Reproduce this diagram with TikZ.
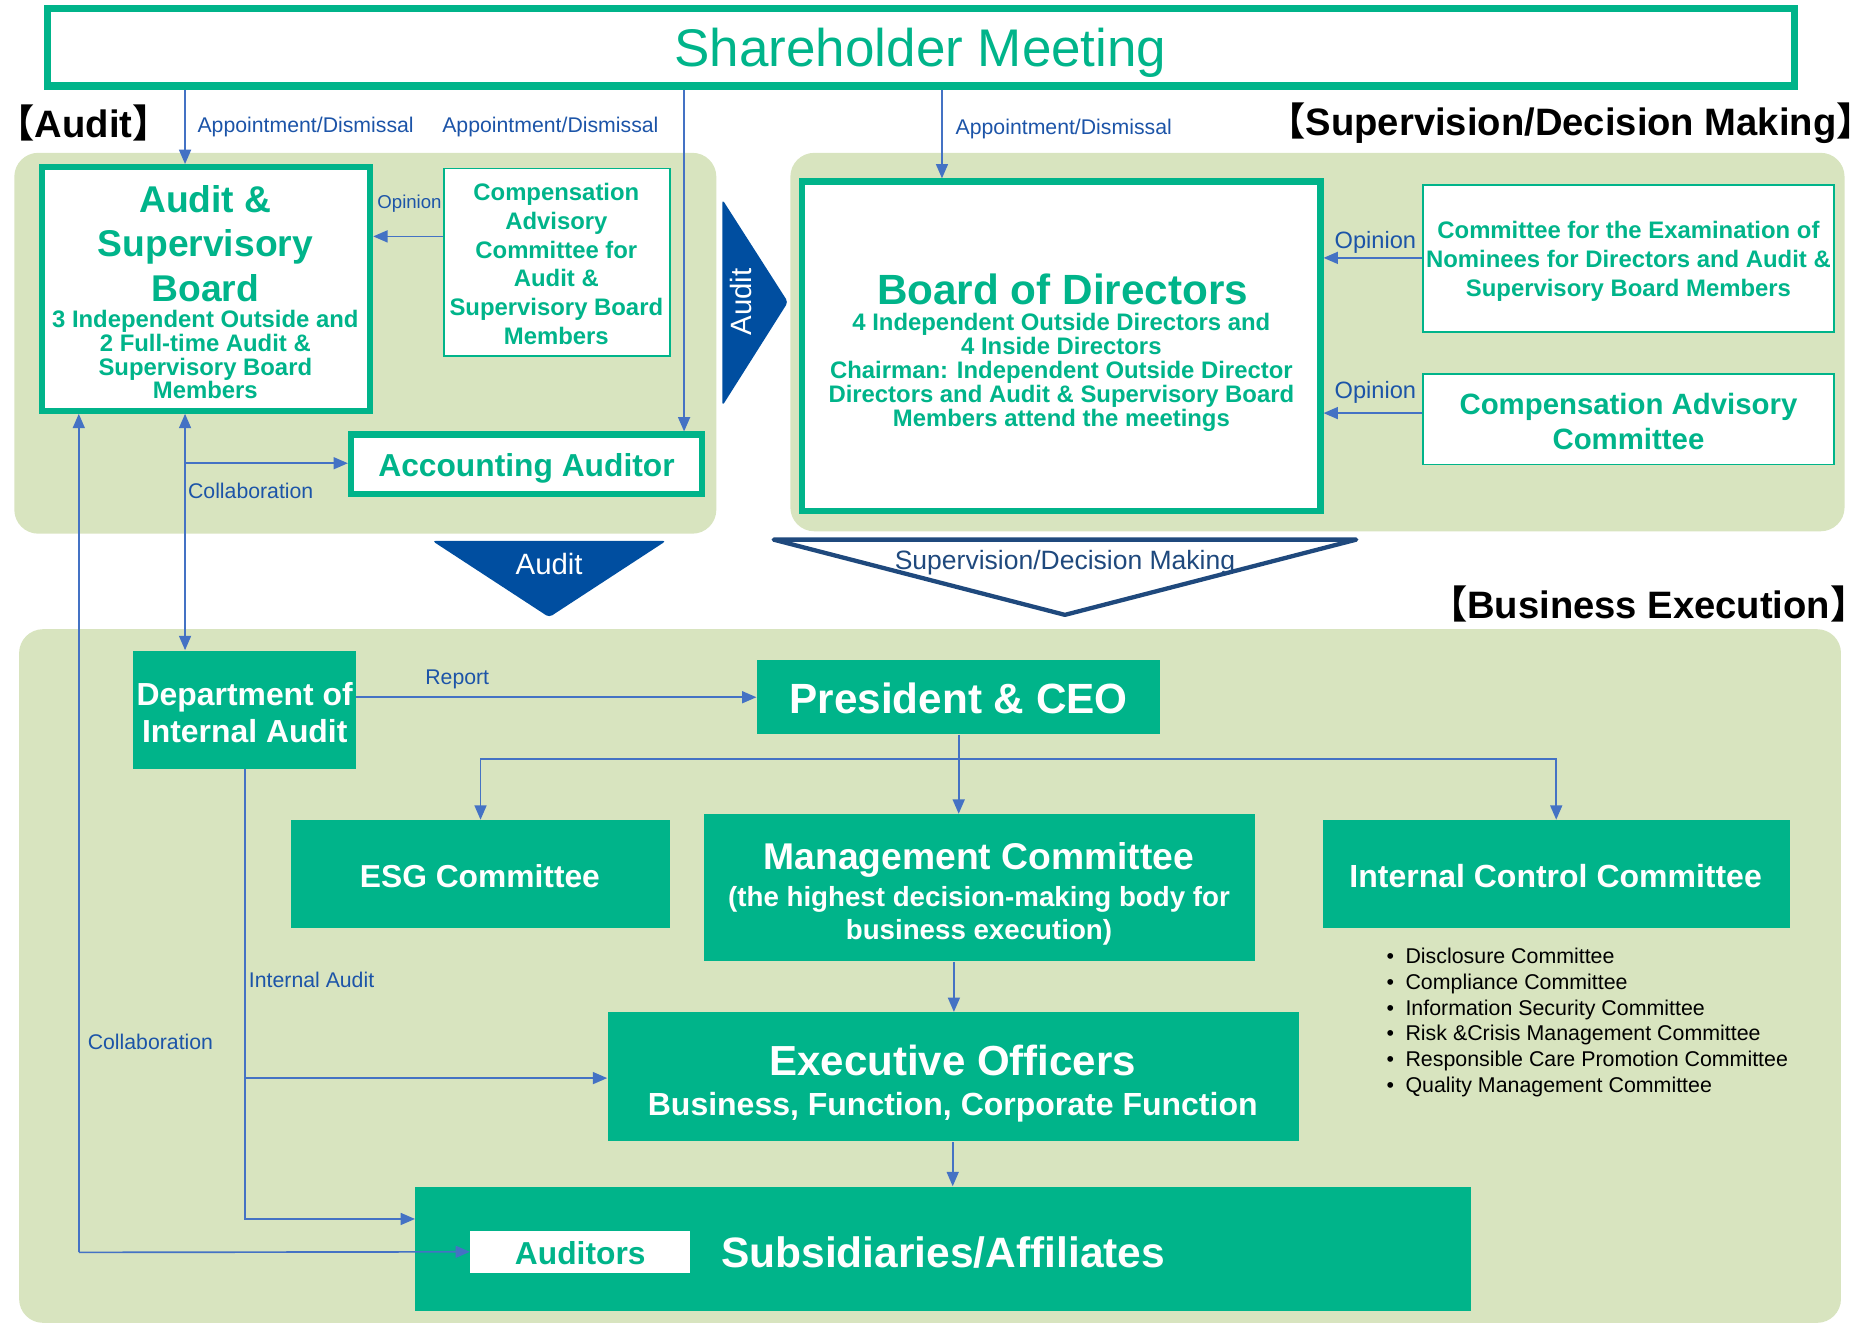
\documentclass[tikz,border=0pt]{standalone}
\usepackage{fontspec}
\setmainfont{Liberation Sans}
\newfontfamily\cjkf{Noto Sans CJK JP}
\usetikzlibrary{arrows.meta,fit,calc}
\definecolor{G}{RGB}{0,180,138}
\definecolor{PN}{RGB}{216,228,191}
\definecolor{AB}{RGB}{68,114,196}
\definecolor{LB}{RGB}{28,84,168}
\definecolor{DB}{RGB}{0,78,160}
\definecolor{NV}{RGB}{31,73,125}
\newcommand\fs[2]{\fontsize{#1}{#2}\selectfont}
\newcommand\lbr{{\cjkf 【}}
\newcommand\rbr{{\cjkf 】}}
\begin{document}
\begin{tikzpicture}[x=0.5pt,y=-0.5pt,
  gbox/.style={draw=G, line width=2.6pt, fill=white, inner sep=0pt},
  tbox/.style={draw=G, line width=0.7pt, fill=white, inner sep=0pt},
  fbox/.style={fill=G, inner sep=0pt},
  panel/.style={fill=PN, rounded corners=10pt, inner sep=0pt},
  gt/.style={text=G, align=center, inner sep=0pt},
  wt/.style={text=white, align=center, inner sep=0pt},
  lbl/.style={text=LB, inner sep=0pt, font=\fs{8.9}{10}},
  arr/.style={draw=AB, line width=0.7pt, -{Triangle[length=6pt,width=5pt]}},
  barr/.style={draw=AB, line width=0.7pt, {Triangle[length=6pt,width=5pt]}-{Triangle[length=6pt,width=5pt]}},
  hd/.style={text=black, inner sep=0pt, font=\fs{16}{18}\bfseries},
]
\useasboundingbox (0,0) rectangle (1568,1110);

% panels
\node[panel, fit={(12,128) (600,447)}] (pA) {};
\node[panel, fit={(662,128) (1545,445)}] (pS) {};
\node[panel, fit={(16,527) (1542,1108)}] (pB) {};

% headings
\node[hd] (hA) at (70,103) {\lbr Audit\rbr};
\node[hd] (hS) at (1316,103) {\lbr Supervision/Decision Making\rbr};
\node[hd] (hB) at (1381,506) {\lbr Business Execution\rbr};

% shareholder meeting
\node[gbox, line width=3pt, fit={(40,7) (1503,72)}] (sm) {};
\node[gt, font=\fs{22.2}{26}] (smt) at (771,44) {Shareholder Meeting};

% audit side
\node[gbox, fit={(35,140) (310,344)}] (asb) {};
\node[gt, font=\fs{15.6}{18.5}\bfseries] (asbt) at (172,204) {Audit \&\\Supervisory\\Board};
\node[gt, font=\fs{10}{10}\bfseries] (asbs) at (172,297) {3 Independent Outside and\\2 Full-time Audit \&\\Supervisory Board\\Members};

\node[tbox, fit={(372,141) (561,298)}] (caac) {};
\node[gt, font=\fs{10}{12}\bfseries] (caact) at (466,221) {Compensation\\Advisory\\Committee for\\Audit \&\\Supervisory Board\\Members};

\node[gbox, fit={(294,364) (588,414)}] (aa) {};
\node[gt, font=\fs{13.3}{15}\bfseries] (aat) at (441,392) {Accounting Auditor};

% supervision side
\node[gbox, fit={(672,152) (1106,428)}] (bod) {};
\node[gt, font=\fs{17.7}{20}\bfseries] (bodt) at (890,242) {Board of Directors};
\node[gt, font=\fs{10}{10}\bfseries] (bods) at (889,312) {4 Independent Outside Directors and\\4 Inside Directors\\Chairman: Independent Outside Director\\Directors and Audit \& Supervisory Board\\Members attend the meetings};

\node[tbox, fit={(1192,155) (1536,278)}] (cen) {};
\node[gt, font=\fs{10}{12.25}\bfseries] (cent) at (1364,219) {Committee for the Examination of\\Nominees for Directors and Audit \&\\Supervisory Board Members};

\node[tbox, fit={(1192,313) (1536,389)}] (cac) {};
\node[gt, font=\fs{12.3}{15}\bfseries] (cact) at (1364,353) {Compensation Advisory\\Committee};

% chevrons
\fill[DB, rounded corners=1.5pt] (605,167) -- (660,253) -- (605,340) -- cycle;
\node[wt, rotate=90, font=\fs{12.3}{14}] (ar1) at (621,253) {Audit};
\fill[DB, rounded corners=1.5pt] (362,453) -- (558,453) -- (460,517) -- cycle;
\node[wt, font=\fs{12.3}{14}] (ar2) at (460,472) {Audit};
\draw[NV, line width=1.8pt, line join=round, fill=white] (648,452) -- (1136,452) -- (892,515) -- cycle;
\node[text=NV, inner sep=0pt, font=\fs{11.1}{13}] (ar3) at (892,471) {Supervision/Decision Making};

% business execution
\node[fbox, fit={(111,545) (298,644)}] (dia) {};
\node[wt, font=\fs{13.35}{15.5}\bfseries] (diat) at (205,597) {Department of\\Internal Audit};

\node[fbox, fit={(634,553) (972,615)}] (ceo) {};
\node[wt, font=\fs{17.7}{20}\bfseries] (ceot) at (803,585) {President \& CEO};

\node[fbox, fit={(244,687) (561,777)}] (esg) {};
\node[wt, font=\fs{13.3}{15}\bfseries] (esgt) at (402,734) {ESG Committee};

\node[fbox, fit={(590,682) (1051,805)}] (mc) {};
\node[wt, font=\fs{15.6}{18}\bfseries] (mct) at (820,720) {Management Committee};
\node[wt, font=\fs{11.6}{13.5}\bfseries] (mcs) at (820,767) {(the highest decision-making body for\\business execution)};

\node[fbox, fit={(1108,687) (1499,777)}] (icc) {};
\node[wt, font=\fs{13.4}{15}\bfseries] (icct) at (1303,734) {Internal Control Committee};

\node[anchor=west, align=left, inner sep=0pt, font=\fs{8.95}{10.75}] (bl) at (1161,856.5) {%
•\hspace{4.8pt}Disclosure Committee\\
•\hspace{4.8pt}Compliance Committee\\
•\hspace{4.8pt}Information Security Committee\\
•\hspace{4.8pt}Risk \&Crisis Management Committee\\
•\hspace{4.8pt}Responsible Care Promotion Committee\\
•\hspace{4.8pt}Quality Management Committee};

\node[fbox, fit={(509,848) (1088,956)}] (eo) {};
\node[wt, font=\fs{17.6}{20}\bfseries] (eot) at (798,888) {Executive Officers};
\node[wt, font=\fs{13.4}{15}\bfseries] (eos) at (798,927) {Business, Function, Corporate Function};

\node[fbox, fit={(348,994) (1232,1098)}] (sub) {};
\node[wt, font=\fs{17.8}{20}\bfseries] (subt) at (790,1049) {Subsidiaries/Affiliates};
\node[fill=white, inner sep=0pt, fit={(394,1031) (578,1066)}] (aud) {};
\node[gt, font=\fs{13.3}{15}\bfseries] (audt) at (486,1050) {Auditors};

% helper coordinates
\coordinate (x155) at (155,0);
\coordinate (x573) at (573,0);
\coordinate (x789) at (789,0);
\coordinate (x66) at (66,0);
\coordinate (x205) at (205,0);
\coordinate (x803) at (803,0);
\coordinate (x799) at (799,0);
\coordinate (x798) at (798,0);
\coordinate (y198) at (0,198);
\coordinate (y216) at (0,216);
\coordinate (y346) at (0,346);
\coordinate (y584) at (0,584);
\coordinate (y1021) at (0,1021);
\coordinate (cc) at (155,388);
\coordinate (cl) at (66,1049);
\coordinate (tj) at (803,636);
\coordinate (ib) at (205,903);

% connectors
\draw[arr] (sm.south -| x155) -- (asb.north -| x155);
\draw[arr] (sm.south -| x573) -- (aa.north -| x573);
\draw[arr] (sm.south -| x789) -- (bod.north -| x789);
\draw[arr] (caac.west |- y198) -- (asb.east |- y198);
\draw[arr] (cen.west |- y216) -- (bod.east |- y216);
\draw[arr] (cac.west |- y346) -- (bod.east |- y346);
\draw[barr] (asb.south -| x155) -- (dia.north -| x155);
\draw[arr] (cc) -- (aa.west |- cc);
\draw[arr] (cl) -- (asb.south -| x66);
\draw[arr] (cl) -- (aud.west);
\draw[arr] (dia.east |- y584) -- (ceo.west |- y584);
\draw[AB, line width=0.7pt] (ceo.south -| x803) -- (tj);
\draw[arr] (tj) -- (mc.north -| x803);
\draw[arr] (tj) -| (esg.north);
\draw[arr] (tj) -| (icc.north);
\draw[arr] (mc.south -| x799) -- (eo.north -| x799);
\draw[arr] (eo.south -| x798) -- (sub.north -| x798);
\draw[arr] (dia.south -| x205) |- (sub.west |- y1021);
\draw[arr] (ib) -- (eo.west |- ib);

% labels
\node[lbl] (l1) at (256,106) {Appointment/Dismissal};
\node[lbl] (l2) at (461,106) {Appointment/Dismissal};
\node[lbl] (l3) at (891,108) {Appointment/Dismissal};
\node[lbl, font=\fs{7.8}{9}] (l4) at (343,171) {Opinion};
\node[lbl, font=\fs{9.9}{11}] (l5) at (1152,203) {Opinion};
\node[lbl, font=\fs{9.9}{11}] (l6) at (1152,329) {Opinion};
\node[lbl] (l7) at (210,411) {Collaboration};
\node[lbl] (l8) at (126,873) {Collaboration};
\node[lbl] (l9) at (383,569) {Report};
\node[lbl] (l10) at (261,821) {Internal Audit};
\end{tikzpicture}
\end{document}
